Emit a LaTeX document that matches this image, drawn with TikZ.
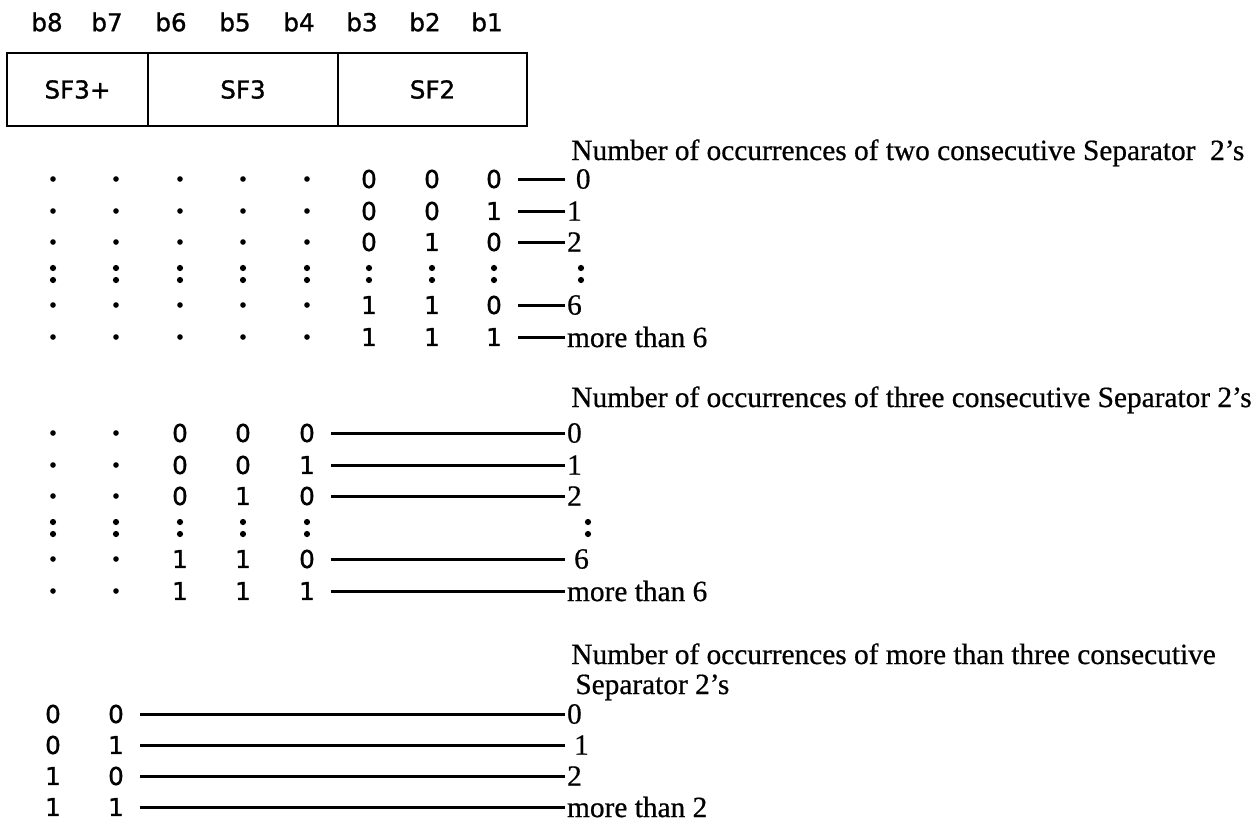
\documentclass[tikz,border=0pt]{standalone}
\usepackage{fontspec}
\setmainfont{Liberation Serif}[FakeBold=0.6]
\newfontfamily\bitfont{DejaVu Sans}[FakeBold=1.2]
\newcommand\twodots[2]{\fill (#1,#2-6) circle[radius=3.1] (#1,#2+6) circle[radius=3.1];}

\begin{document}
\begin{tikzpicture}[x=0.02cm,y=-0.02cm,
    bit/.style={font=\bitfont\fontsize{14}{14}\selectfont,inner sep=4pt},
    field/.style={draw,line width=1.3pt,minimum height=1.46cm,inner sep=0pt,
                  font=\bitfont\fontsize{14}{14}\selectfont},
    val/.style={anchor=west,inner sep=1pt,font=\fontsize{16.7}{16.7}\selectfont},
    head/.style={anchor=base west,inner sep=0pt,font=\fontsize{16.7}{16.7}\selectfont},
    rule/.style={line width=1.7pt,shorten <=0.18cm}]
  \useasboundingbox (0,0) rectangle (1258,823);

  % bit numbers and the octet
  \foreach \b/\x in {8/47,7/107,6/171,5/235,4/299,3/362,2/425,1/487}
    \node[bit] (b\b) at (\x,22) {b\b};
  \node[field,minimum width=2.82cm] (sf3p) at (77.5,89.5) {SF3+};
  \node[field,minimum width=3.80cm] (sf3) at (243,89.5) {SF3};
  \node[field,minimum width=3.78cm] (sf2) at (432.5,89.5) {SF2};

  % SF2: two consecutive Separator 2's
  \node[head] (ha) at (571,160) {Number of occurrences of two consecutive Separator~ 2's};
  \foreach \y in {179,211,242,305,337}
    \foreach \x in {53,116,180,243,307}
      \fill (\x,\y) circle[radius=2.8];
  \foreach \x in {53,116,180,243,307,369,432,494,581}
    {\twodots{\x}{274}}
  \foreach \r/\y/\u/\v/\w/\lab in {1/179/0/0/0/{\hspace{5pt}0},2/211/0/0/1/1,
      3/242/0/1/0/2,5/305/1/1/0/6,6/337/1/1/1/more than 6} {
    \node[bit] (a\r-3) at (369,\y) {\u};
    \node[bit] (a\r-2) at (432,\y) {\v};
    \node[bit] (a\r-1) at (494,\y) {\w};
    \node[val] (a\r-v) at (565,\y) {\lab};
    \draw[rule] (a\r-1) -- (a\r-v);
  }

  % SF3: three consecutive Separator 2's
  \node[head] (hb) at (571,407) {Number of occurrences of three consecutive Separator 2's};
  \foreach \y in {433,465,496,559,591}
    \foreach \x in {53,116}
      \fill (\x,\y) circle[radius=2.8];
  \foreach \x in {53,116,180,243,307,588}
    {\twodots{\x}{528}}
  \foreach \r/\y/\u/\v/\w/\lab in {1/433/0/0/0/0,2/465/0/0/1/1,
      3/496/0/1/0/2,5/559/1/1/0/{\hspace{4pt}6},6/591/1/1/1/more than 6} {
    \node[bit] (c\r-6) at (180,\y) {\u};
    \node[bit] (c\r-5) at (243,\y) {\v};
    \node[bit] (c\r-4) at (307,\y) {\w};
    \node[val] (c\r-v) at (565,\y) {\lab};
    \draw[rule] (c\r-4) -- (c\r-v);
  }

  % SF3+: more than three consecutive Separator 2's
  \node[head] (hc) at (571,664) {Number of occurrences of more than three consecutive};
  \node[head] (hc2) at (575,694) {Separator 2's};
  \foreach \r/\y/\u/\v/\lab in {1/714/0/0/0,2/745/0/1/{\hspace{4pt}1},
      3/776/1/0/2,4/807/1/1/more than 2} {
    \node[bit] (e\r-8) at (53,\y) {\u};
    \node[bit] (e\r-7) at (116,\y) {\v};
    \node[val] (e\r-v) at (565,\y) {\lab};
    \draw[rule] (e\r-7) -- (e\r-v);
  }
\end{tikzpicture}
\end{document}
